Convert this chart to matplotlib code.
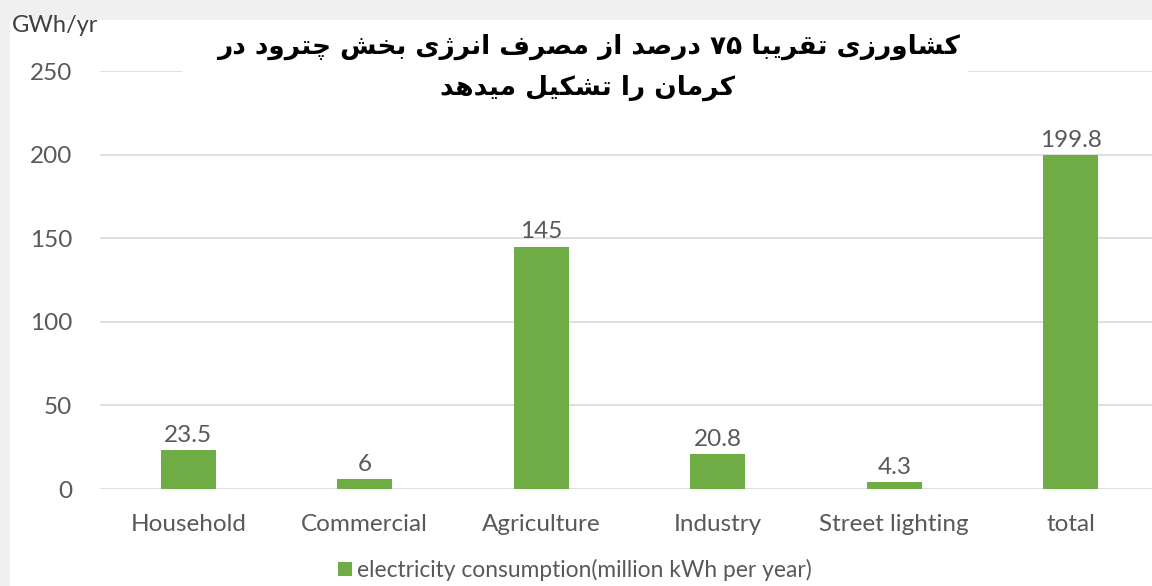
import re
import matplotlib
matplotlib.use("Agg")
import matplotlib.pyplot as plt
from matplotlib.patches import Rectangle, Patch

# ---------------- data ----------------
categories = ["Household", "Commercial", "Agriculture", "Industry", "Street lighting", "total"]
values = [23.5, 6, 145, 20.8, 4.3, 199.8]
value_labels = ["23.5", "6", "145", "20.8", "4.3", "199.8"]
yticks = [0, 50, 100, 150, 200, 250]
series_name = "electricity consumption(million kWh per year)"
y_unit = "GWh/yr"
title_lines = ["کشاورزی تقریبا ۷۵ درصد از مصرف انرژی بخش چترود در",
               "کرمان را تشکیل میدهد"]

# ---------------- minimal Persian shaping ----------------
FORMS = {
    '\u0627': ('\uFE8D', '\uFE8E', None, None),
    '\u0628': ('\uFE8F', '\uFE90', '\uFE91', '\uFE92'),
    '\u062A': ('\uFE95', '\uFE96', '\uFE97', '\uFE98'),
    '\u062E': ('\uFEA5', '\uFEA6', '\uFEA7', '\uFEA8'),
    '\u062F': ('\uFEA9', '\uFEAA', None, None),
    '\u0631': ('\uFEAD', '\uFEAE', None, None),
    '\u0632': ('\uFEAF', '\uFEB0', None, None),
    '\u0634': ('\uFEB5', '\uFEB6', '\uFEB7', '\uFEB8'),
    '\u0635': ('\uFEB9', '\uFEBA', '\uFEBB', '\uFEBC'),
    '\u0641': ('\uFED1', '\uFED2', '\uFED3', '\uFED4'),
    '\u0642': ('\uFED5', '\uFED6', '\uFED7', '\uFED8'),
    '\u0644': ('\uFEDD', '\uFEDE', '\uFEDF', '\uFEE0'),
    '\u0645': ('\uFEE1', '\uFEE2', '\uFEE3', '\uFEE4'),
    '\u0646': ('\uFEE5', '\uFEE6', '\uFEE7', '\uFEE8'),
    '\u0647': ('\uFEE9', '\uFEEA', '\uFEEB', '\uFEEC'),
    '\u0648': ('\uFEED', '\uFEEE', None, None),
    '\u0686': ('\uFB7A', '\uFB7B', '\uFB7C', '\uFB7D'),
    '\u0698': ('\uFB8A', '\uFB8B', None, None),
    '\u06A9': ('\uFB8E', '\uFB8F', '\uFB90', '\uFB91'),
    '\u06CC': ('\uFBFC', '\uFBFD', '\uFBFE', '\uFBFF'),
}


def shape_fa(text):
    text = text.replace('\u0643', '\u06A9').replace('\u064A', '\u06CC')
    out = []
    n = len(text)
    for i, ch in enumerate(text):
        if ch not in FORMS:
            out.append(ch)
            continue
        prev = text[i - 1] if i > 0 else ''
        nxt = text[i + 1] if i + 1 < n else ''
        join_prev = prev in FORMS and FORMS[prev][2] is not None
        join_next = FORMS[ch][2] is not None and nxt in FORMS
        iso, fin, ini, med = FORMS[ch]
        if join_prev and join_next:
            out.append(med)
        elif join_prev:
            out.append(fin)
        elif join_next:
            out.append(ini)
        else:
            out.append(iso)
    vis = ''.join(out)[::-1]
    vis = re.sub(r'[0-9\u06F0-\u06F9.]+', lambda m: m.group(0)[::-1], vis)
    return vis


# ---------------- figure ----------------
W, H = 1152, 586
fig = plt.figure(figsize=(W / 100, H / 100), dpi=100, facecolor="#f0f0f0")
fig.patches.append(Rectangle((10 / W, 0), 1, 1 - 20 / H, transform=fig.transFigure,
                             facecolor="white", edgecolor="none", zorder=-5))

ax = fig.add_axes([100 / W, (H - 489) / H, 1 - 100 / W, (489 - 71) / H])
ax.set_facecolor("white")
font = "Lato"
grey = "#595959"

x = list(range(len(categories)))
bars = ax.bar(x, values, width=0.31, color="#6FAC46", zorder=3, label=series_name)
for xi, v, lab in zip(x, values, value_labels):
    ax.annotate(lab, (xi, v), xytext=(0, 3), textcoords="offset points",
                ha="center", va="bottom", fontsize=17.5, color=grey, family=font)

ax.set_xlim(-0.5, 5.46)
ax.set_ylim(0, 250)
ax.set_yticks(yticks)
ax.set_xticks(x)
ax.set_xticklabels(categories)
ax.grid(axis="y", color="#d9d9d9", lw=1.2, zorder=0)
for s in ax.spines.values():
    s.set_visible(False)
ax.tick_params(axis="both", length=0, labelsize=17.5, labelcolor=grey)
ax.tick_params(axis="y", pad=20)
ax.tick_params(axis="x", pad=18)
for t in ax.get_xticklabels() + ax.get_yticklabels():
    t.set_family(font)

# title box
fig.patches.append(Rectangle((182 / W, 1 - 120 / H), (968 - 182) / W, 100 / H,
                             transform=fig.transFigure, facecolor="white",
                             edgecolor="none", zorder=2))
for i, line in enumerate(title_lines):
    fig.text(588 / W, 1 - (47 + 41 * i) / H, shape_fa(line), ha="center", va="center",
             fontsize=19, fontweight="bold", family=["DejaVu Sans"], color="black", zorder=5)

fig.text(12 / W, 1 - 25 / H, y_unit, ha="left", va="center", fontsize=17,
         color="#404040", family=font)

ax.legend(handles=[Patch(facecolor="#6FAC46", label=series_name)], loc="center",
          bbox_to_anchor=(575 / W, 1 - 570 / H), bbox_transform=fig.transFigure,
          frameon=False, prop={"family": font, "size": 16.4}, labelcolor=grey,
          handlelength=0.6, handleheight=0.6, handletextpad=0.25)

fig.savefig("out.png", dpi=100, facecolor=fig.get_facecolor())
